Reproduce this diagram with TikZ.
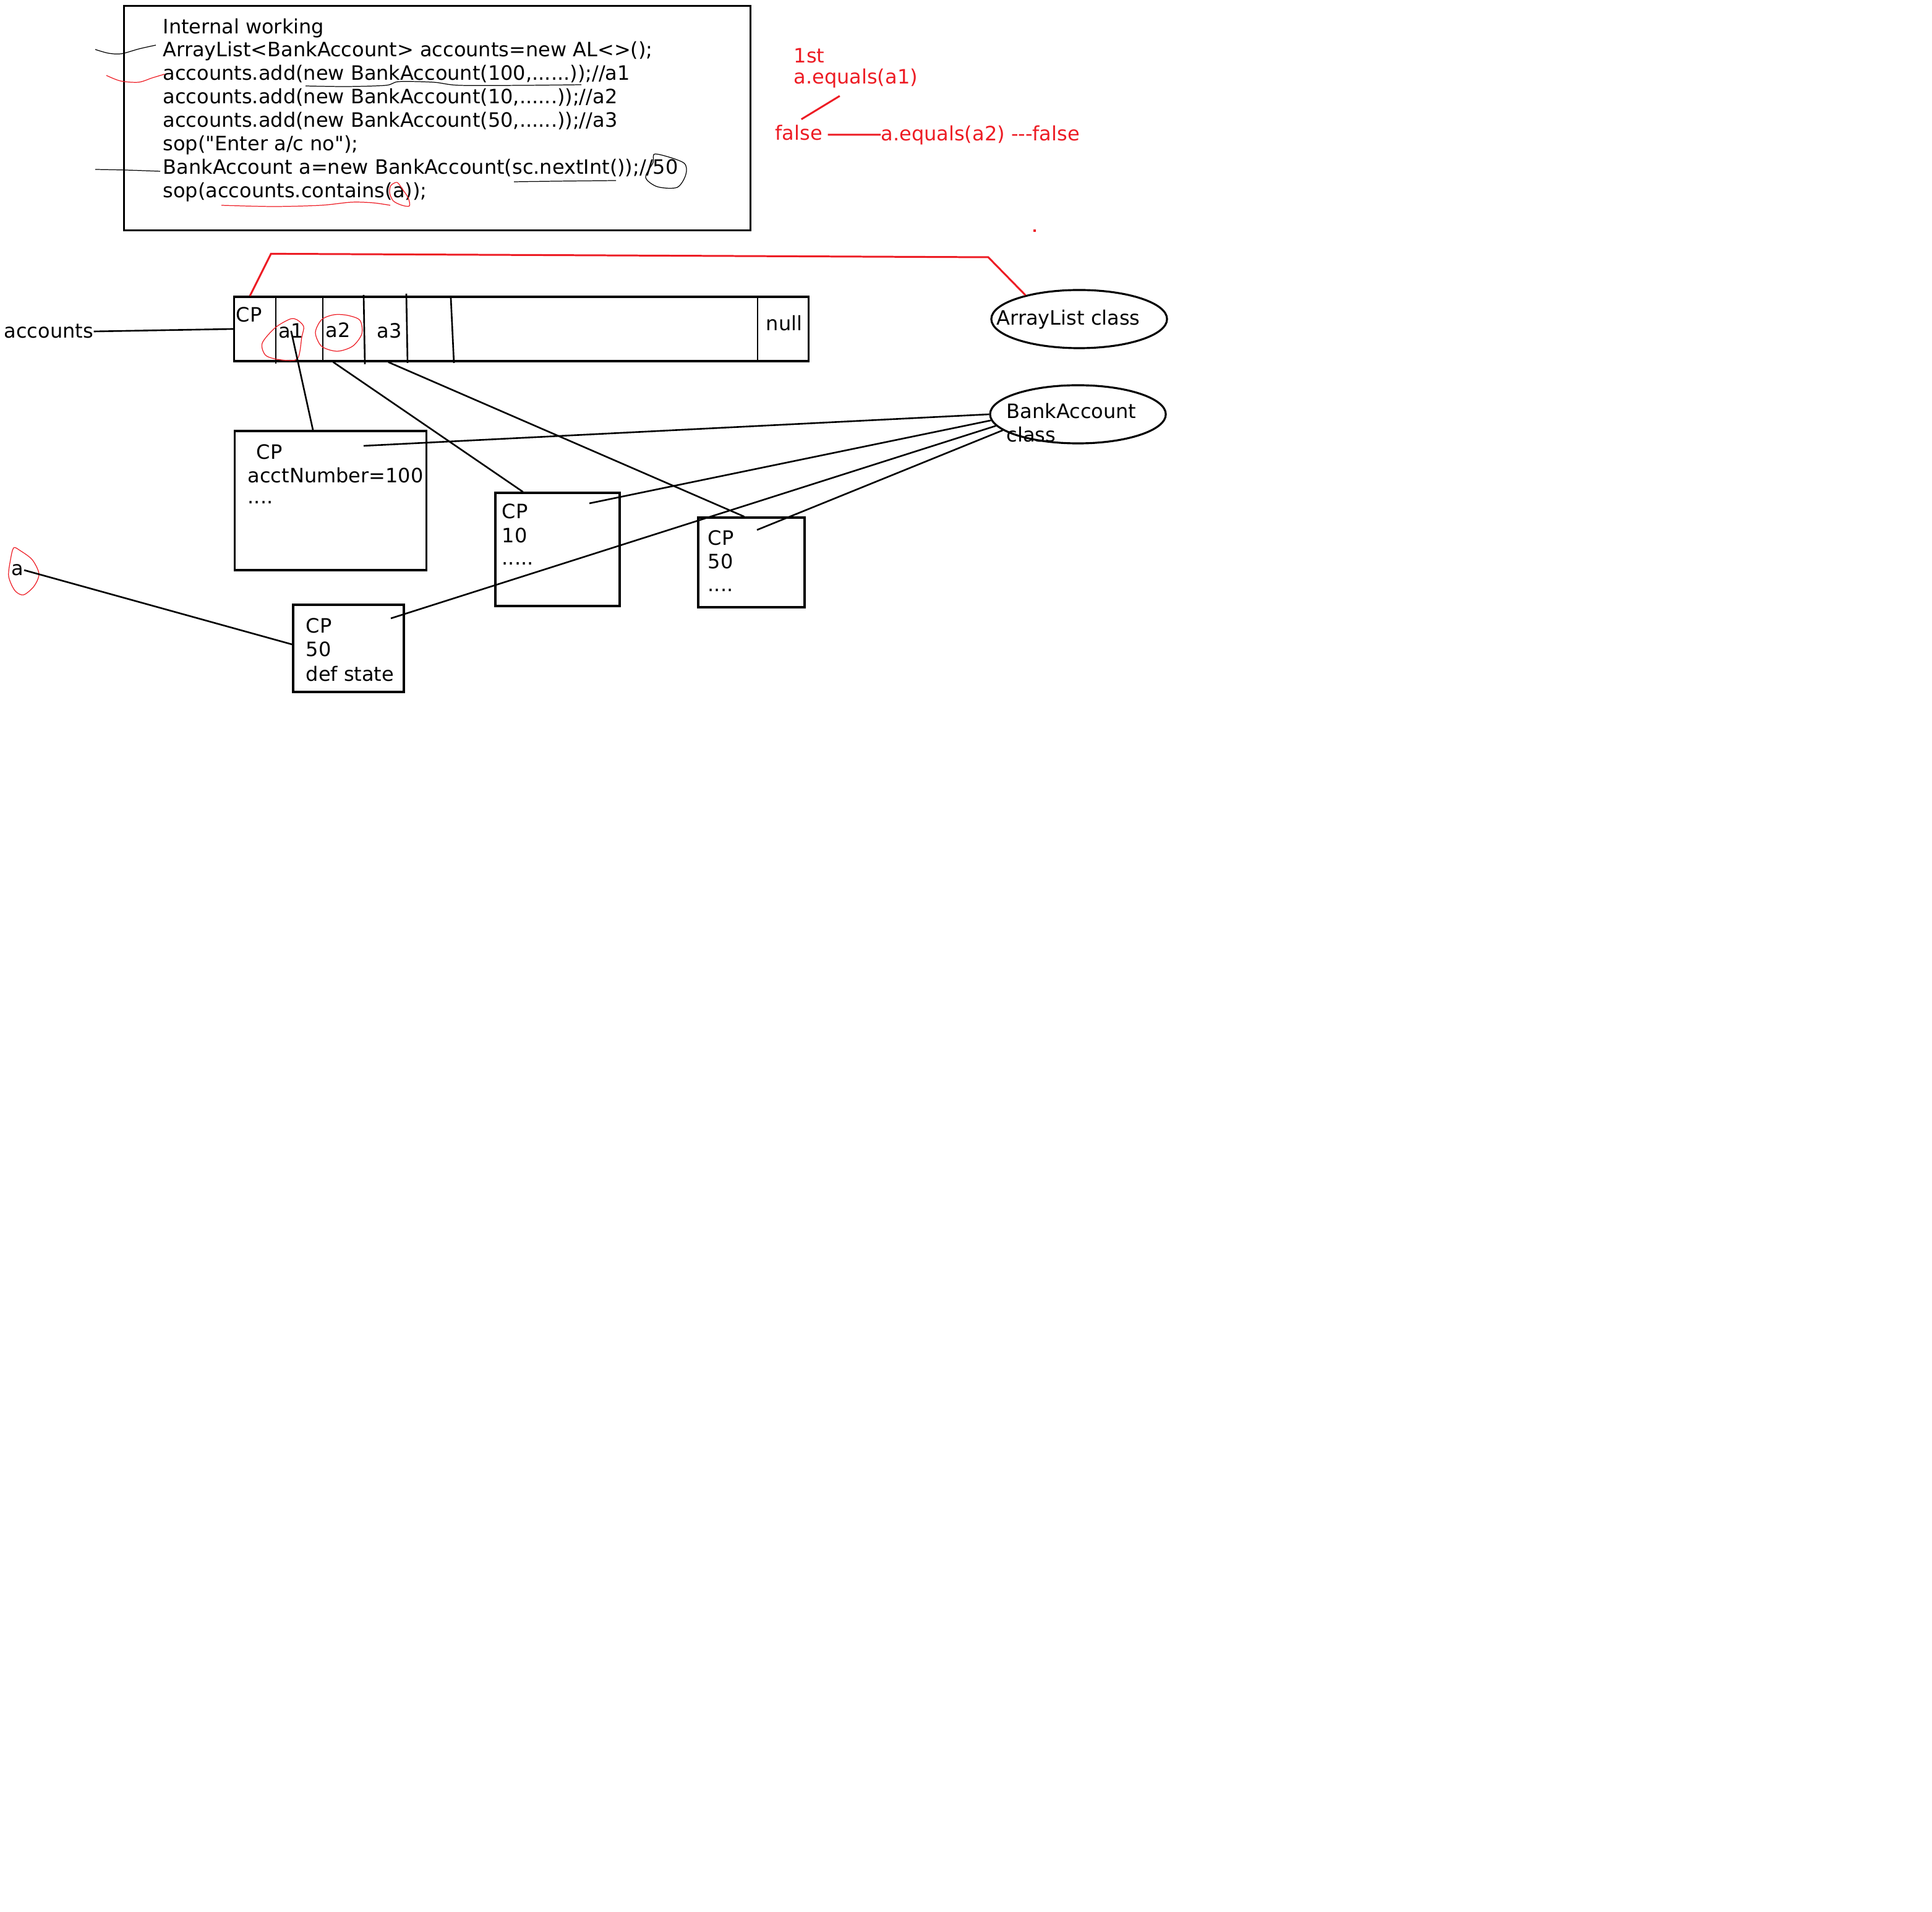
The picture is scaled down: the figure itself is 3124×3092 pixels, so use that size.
\documentclass[tikz,border=0pt]{standalone}
\usepackage{fontspec}
\setmainfont{DejaVu Sans}[Ligatures=TeXOff]
\usepackage{xcolor}
\usepackage{tikz}
\usetikzlibrary{shapes.geometric}
\definecolor{paintred}{RGB}{237,28,36}
\tikzstyle{txt} = [inner sep=0pt, anchor=west, font=\fontsize{9.1pt}{10.8pt}\selectfont]
\tikzstyle{redtxt} = [txt, text=paintred]
\tikzstyle{objbox} = [rectangle, draw, line width=0.9pt, inner sep=0pt]
\tikzstyle{classell} = [ellipse, draw, line width=0.9pt, minimum width=2.84cm, minimum height=0.94cm, inner sep=0pt]
\tikzstyle{link} = [line width=0.75pt]
\tikzstyle{redlink} = [line width=0.85pt, draw=paintred]
\tikzstyle{scribble} = [line width=0.35pt]

\begin{document}
\begin{tikzpicture}[x=0.01cm, y=-0.01cm]
\useasboundingbox (0,0) rectangle (3124,3092);

% code on top
\node (codebox) [objbox, minimum width=10.12cm, minimum height=3.62cm] at (707,191) {};
\node (code) [txt, anchor=north west, align=left] at (263,29) {Internal working\\ArrayList<BankAccount> accounts=new AL<>();\\accounts.add(new BankAccount(100,......));//a1\\accounts.add(new BankAccount(10,......));//a2\\accounts.add(new BankAccount(50,......));//a3\\sop("Enter a/c no");\\BankAccount a=new BankAccount(sc.nextInt());//50\\sop(accounts.contains(a));};
\draw[scribble] plot[smooth] coordinates {(154,80) (175,86) (196,87) (225,79) (252,73)};
\draw[scribble, paintred] plot[smooth] coordinates {(172,122) (195,131) (224,133) (246,126) (266,120)};
\draw[scribble] plot[smooth] coordinates {(154,274) (203,275) (259,277)};
\draw[scribble] plot[smooth] coordinates {(494,139) (560,140) (624,138) (645,132) (701,133) (743,138) (850,138) (940,137)};
\draw[scribble] plot[smooth] coordinates {(831,294) (900,293) (996,292)};
\draw[scribble] plot[smooth cycle] coordinates {(1060,249) (1105,263) (1109,282) (1095,303) (1063,302) (1044,287) (1056,263)};
\draw[scribble, paintred] plot[smooth] coordinates {(358,332) (442,334) (519,332) (568,327) (603,328) (631,332)};
\draw[scribble, paintred] plot[smooth cycle] coordinates {(632,300) (642,295) (650,305) (660,320) (662,333) (650,332) (636,325) (630,312)};

% equals notes
\node (first) [redtxt] at (1283,90) {1st};
\node (eqa) [redtxt] at (1283,127) {a.equals(a1)};
\node (falsea) [redtxt] at (1253,215) {false};
\node (eqb) [redtxt] at (1424,219) {a.equals(a2) ---false};
\draw[redlink] ([xshift=-0.26cm,yshift=-0.12cm]eqa.south) -- ([xshift=0.04cm,yshift=0.09cm]falsea.north);
\draw[redlink] ([xshift=0.08cm,yshift=-0.03cm]falsea.east) -- ([yshift=0.01cm]eqb.west);
\fill[paintred] (1671,371) rectangle (1675,375);

% the list
\node (acclabel) [txt] at (6,536) {accounts};
\node (arr) [objbox, minimum width=9.28cm, minimum height=1.04cm] at (843,532) {};
\draw[link] (446,480) -- (446,588);
\draw[link] (522,478) -- (522,584);
\draw[link] (588,477) -- (590,589);
\draw[link] (657,475) -- (659,587);
\draw[link] (729,482) -- (734,587);
\draw[link] (1225,480) -- (1225,584);
\node (cpcell) [txt] at (381,509) {CP};
\node (ca1) [txt] at (450,535) {a1};
\node (ca2) [txt] at (526,534) {a2};
\node (ca3) [txt] at (609,535) {a3};
\node (nullcell) [txt] at (1238,523) {null};
\draw[scribble, paintred] plot[smooth cycle] coordinates {(469,516) (445,530) (424,555) (430,575) (455,582) (481,580) (488,545) (491,528) (480,517)};
\draw[scribble, paintred] plot[smooth cycle] coordinates {(540,509) (520,517) (510,538) (520,560) (545,568) (570,560) (585,540) (582,518) (562,510)};
\draw[link] (acclabel.east) -- (arr.west);

% classes
\node (alcls) [classell] at (1745,516) {};
\node (altext) [txt] at (1611,517) {ArrayList class};
\node (bacls) [classell] at (1743,670) {};
\node (batext) [txt] at (1627,665) {BankAccount};
\node (batext2) [txt] at (1627,703) {class};
\draw[redlink] ([xshift=0.27cm]arr.north west) -- ++(34,-68) -- (1598,416) -- (alcls.156);

% objects
\node (obj100) [objbox, minimum width=3.09cm, minimum height=2.25cm] at (534.5,809.5) {};
\node (cp100t) [txt] at (414,731) {CP};
\node (num100) [txt] at (400,769) {acctNumber=100};
\node (dots100) [txt] at (400,813) {....};
\node (obj10) [objbox, minimum width=2.01cm, minimum height=1.83cm] at (901.5,888.5) {};
\node (cp10t) [txt] at (811,827) {CP};
\node (num10) [txt] at (811,866) {10};
\node (dots10) [txt] at (811,912) {.....};
\node (obj50) [objbox, minimum width=1.72cm, minimum height=1.45cm] at (1215,909.5) {};
\node (cp50t) [txt] at (1144,870) {CP};
\node (num50) [txt] at (1144,908) {50};
\node (dots50) [txt] at (1144,955) {....};
\node (objA) [objbox, minimum width=1.79cm, minimum height=1.41cm] at (563.5,1048.5) {};
\node (cpAt) [txt] at (494,1012) {CP};
\node (numA) [txt] at (494,1050) {50};
\node (defA) [txt] at (494,1090) {def state};
\node (aref) [txt] at (18,922) {a};
\draw[scribble, paintred] plot[smooth cycle] coordinates {(22,886) (32,890) (52,905) (63,928) (55,948) (38,962) (24,955) (14,932) (17,905)};

\draw[link] (ca1.center) -- (obj100.104);
\draw[link] (arr.190) -- (obj10.121);
\draw[link] (arr.194) -- (obj50.99);
\draw[link] (aref.east) -- (objA.176);

\coordinate (cp100) at (588,721);
\coordinate (cp10) at (953,814);
\coordinate (cp50) at (1224,857);
\coordinate (cpA) at (632,1000);
\draw[link] (bacls.180) -- (cp100);
\draw[link] (bacls.184) -- (cp10);
\draw[link] (bacls.188) -- (cpA);
\draw[link] (bacls.192) -- (cp50);
\end{tikzpicture}
\end{document}
